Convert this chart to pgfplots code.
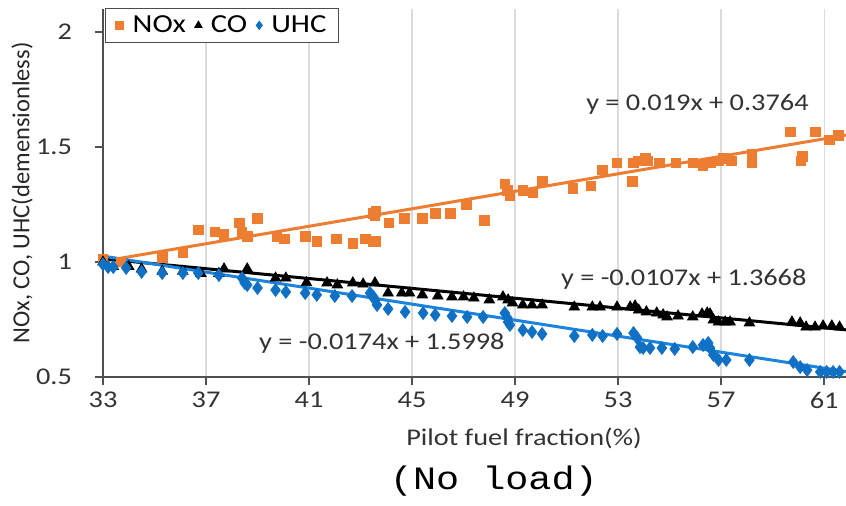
\documentclass[border=0pt]{standalone}
\usepackage{pgfplots}
\pgfplotsset{compat=1.18}
\usepackage{fontspec}
\setmainfont{Carlito}[FakeStretch=1.18]
\newfontfamily\ylabfont{Carlito}
\newfontfamily\monofont{Liberation Mono}[FakeStretch=1.18]
\definecolor{noxc}{RGB}{237,125,49}
\definecolor{uhcc}{RGB}{16,112,196}
\definecolor{uhcl}{RGB}{28,132,222}
\definecolor{axc}{RGB}{80,80,80}

\pgfplotstableread{
x y
33.0 1.01
33.7 1.00
35.3 1.02
36.1 1.04
36.7 1.14
37.35 1.13
37.7 1.12
38.3 1.17
38.4 1.13
38.6 1.11
39.0 1.19
39.75 1.11
40.05 1.10
40.85 1.11
41.3 1.09
42.07 1.10
42.7 1.08
43.2 1.10
43.5 1.09
43.6 1.09
43.5 1.21
43.6 1.22
43.55 1.20
44.1 1.17
44.7 1.19
45.4 1.19
45.9 1.21
46.5 1.21
47.1 1.25
47.8 1.18
48.6 1.34
48.7 1.31
48.8 1.29
49.3 1.31
49.7 1.30
50.05 1.35
51.25 1.32
51.95 1.33
52.4 1.40
52.95 1.43
53.55 1.35
53.6 1.43
53.8 1.44
54.05 1.45
54.15 1.44
54.6 1.43
55.25 1.43
55.9 1.43
56.3 1.42
56.6 1.43
56.9 1.44
57.1 1.45
57.4 1.44
58.2 1.47
58.2 1.43
59.7 1.565
60.1 1.44
60.15 1.46
60.65 1.565
61.2 1.53
61.55 1.55
}\noxdata

\pgfplotstableread{
x y
33.0 1.00
33.4 0.98
34.0 0.98
34.5 0.97
35.3 0.96
36.1 0.96
36.8 0.95
37.5 0.95
37.7 0.97
38.6 0.97
39.7 0.93
40.1 0.93
40.9 0.91
41.7 0.909
42.1 0.90
42.7 0.909
43.1 0.904
43.56 0.909
44.07 0.865
44.6 0.865
44.9 0.865
45.4 0.857
46.0 0.852
46.55 0.848
47.0 0.848
47.4 0.843
48.0 0.835
48.53 0.848
48.73 0.835
48.9 0.822
49.3 0.813
49.66 0.813
50.05 0.813
51.3 0.804
52.0 0.804
52.3 0.804
52.96 0.804
53.47 0.804
53.66 0.809
53.8 0.791
54.1 0.783
54.5 0.778
54.75 0.77
54.9 0.761
55.33 0.765
55.9 0.761
56.26 0.774
56.46 0.778
56.57 0.774
56.7 0.748
56.9 0.739
57.16 0.739
57.35 0.739
58.1 0.735
59.75 0.739
60.07 0.735
60.3 0.717
60.65 0.717
60.96 0.722
61.3 0.722
61.6 0.717
}\codata

\pgfplotstableread{
x y
33.0 0.99
33.2 0.978
33.4 0.978
33.9 0.974
34.5 0.957
35.3 0.952
36.1 0.952
36.7 0.952
37.5 0.943
38.4 0.93
38.5 0.909
38.6 0.90
39.0 0.887
39.7 0.878
40.1 0.87
40.85 0.865
41.3 0.857
42.0 0.852
42.67 0.852
43.37 0.865
43.5 0.848
43.56 0.835
43.64 0.813
44.07 0.796
44.73 0.783
45.43 0.778
45.9 0.77
46.55 0.765
47.14 0.761
47.76 0.761
48.6 0.778
48.7 0.757
48.73 0.739
48.8 0.726
49.3 0.704
49.66 0.696
50.05 0.687
51.3 0.678
52.0 0.683
52.4 0.678
52.96 0.687
53.6 0.691
53.74 0.67
53.85 0.63
53.97 0.626
54.24 0.626
54.7 0.626
55.2 0.622
55.9 0.63
56.3 0.639
56.5 0.648
56.57 0.626
56.7 0.596
56.9 0.574
57.2 0.574
58.1 0.574
59.8 0.565
60.07 0.543
60.34 0.53
60.85 0.522
61.1 0.522
61.35 0.522
61.6 0.522
}\uhcdata

\begin{document}
\begin{tikzpicture}
\begin{axis}[
  at={(51.5pt,64.5pt)}, anchor=south west,
  scale only axis, width=371.5pt, height=184pt,
  xmin=33, xmax=61.85, ymin=0.5, ymax=2.1,
  axis x line*=bottom, axis y line*=left,
  axis line style={axc, line width=0.7pt, -},
  xtick={33,37,...,61}, ytick={0.5,1,1.5,2},
  tick align=outside, major tick length=4pt,
  tick style={axc, line width=0.7pt},
  xmajorgrids, grid style={black!14, line width=0.6pt},
  /pgf/number format/assume math mode=true,
  ticklabel style={font=\fontsize{12}{14}\selectfont, text=black!80},
  yticklabel style={xshift=-8pt},
  xlabel={Pilot fuel fraction(\%)},
  xlabel style={at={(axis description cs:0.5666,-0.1658)}, anchor=center, font=\fontsize{12}{14}\selectfont, text=black!80},
  ylabel={NOx, CO, UHC(demensionless)},
  ylabel style={at={(axis description cs:-0.109,0.5)}, anchor=center, font=\ylabfont\fontsize{12.25}{14}\selectfont, text=black!85},
  title={(No load)},
  title style={at={(axis description cs:0.526,-0.315)}, anchor=center, yshift=0pt, font=\monofont\fontsize{16.3}{19}\selectfont},
  legend columns=3,
  legend style={at={(axis description cs:0.003,1.003)}, anchor=north west,
    draw=black!70, line width=0.5pt, font=\fontsize{13}{15}\selectfont,
    inner xsep=5pt, inner ysep=1.5pt,
    nodes={inner xsep=1pt, inner ysep=2pt},
    /tikz/every odd column/.append style={column sep=3.5pt},
    /tikz/every even column/.append style={column sep=3.5pt}},
  legend image code/.code={\draw[#1, mark size=2pt] plot coordinates {(0pt,0pt)};},
]
\addplot[only marks, mark=square*, mark size=2.4pt, color=noxc] table[x=x,y=y] {\noxdata};
\addlegendentry{NOx}
\addplot[only marks, mark=triangle*, mark size=3pt, color=black] table[x=x,y=y] {\codata};
\addlegendentry{CO}
\addplot[only marks, mark=diamond*, mark size=3.2pt, color=uhcc] table[x=x,y=y] {\uhcdata};
\addlegendentry{UHC}
\addplot[forget plot, no marks, noxc, line width=1.5pt] coordinates {(33,1.0034) (62,1.5544)};
\addplot[forget plot, no marks, black, line width=1.5pt] coordinates {(33,1.0137) (62,0.7034)};
\addplot[forget plot, no marks, uhcl, line width=1.5pt] coordinates {(33,1.0256) (62,0.5210)};
\node[anchor=west, font=\fontsize{12}{14}\selectfont, text=black!80] at (axis cs:51.49,1.685) {y = 0.019x + 0.3764};
\node[anchor=west, font=\fontsize{12}{14}\selectfont, text=black!80] at (axis cs:50.51,0.925) {y = -0.0107x + 1.3668};
\node[anchor=west, font=\fontsize{12}{14}\selectfont, text=black!80] at (axis cs:38.79,0.645) {y = -0.0174x + 1.5998};
\end{axis}
\pgfresetboundingbox
\path (0,0) rectangle (423pt,253pt);
\end{tikzpicture}
\end{document}
